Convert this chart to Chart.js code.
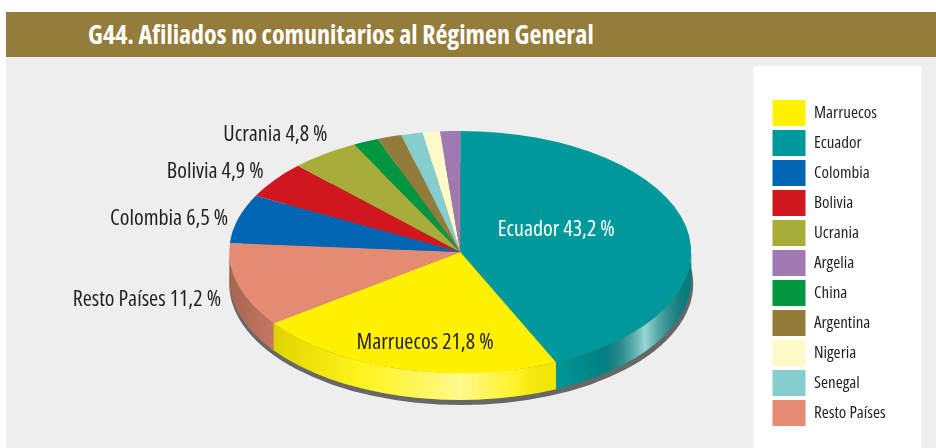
<!DOCTYPE html>
<html>
<head>
<meta charset="utf-8">
<script src="https://cdn.jsdelivr.net/npm/chart.js@4.4.1/dist/chart.umd.min.js"></script>
<style>
  body { margin: 0; width: 936px; height: 448px; background: #fff; position: relative; overflow: hidden; }
  #band {
    position: absolute; left: 6px; top: 12px; width: 930px; height: 45px;
    box-sizing: border-box; padding-left: 82px; background: #947c3a; color: #fff;
    font-family: "Open Sans", sans-serif; font-weight: 700; font-size: 26px; font-stretch: 75%;
    line-height: 44px;
  }
  #wrap { position: absolute; left: 6px; top: 57px; width: 930px; height: 391px; background: #eeeeee; }
</style>
</head>
<body>
<div id="band">G44. Afiliados no comunitarios al Régimen General</div>
<div id="wrap"><canvas id="afiliados" width="930" height="391"></canvas></div>
<script>
const FONT = '"Open Sans", sans-serif';

// slices, clockwise from 12 o'clock
const countries = ["Ecuador", "Marruecos", "Resto Países", "Colombia", "Bolivia", "Ucrania",
  "China", "Argentina", "Senegal", "Nigeria", "Argelia"];
const shares = [43.2, 21.8, 11.2, 6.5, 4.9, 4.8, 1.8, 1.7, 1.5, 1.2, 1.4];
const sliceColors = ["#00999b", "#fff100", "#e58b71", "#0066b3", "#d0161f", "#a8ad3a",
  "#00953f", "#917c3a", "#86cdcd", "#fffac7", "#a079b3"];
const legendOrder = ["Marruecos", "Ecuador", "Colombia", "Bolivia", "Ucrania", "Argelia",
  "China", "Argentina", "Nigeria", "Senegal", "Resto Países"];

// which slices get a "name xx,x %" label and how it sits
const labelStyle = {
  "Ecuador":      { s: 0.425, dx: 0,   dy: -11, align: "center", color: "#fff" },
  "Marruecos":    { s: 0.7,   dx: 6,   dy: 9,   align: "center", color: "#231f20" },
  "Resto Países": { s: 1,     dx: -17, dy: 15,  align: "right",  color: "#231f20" },
  "Colombia":     { s: 1,     dx: -10, dy: 0,   align: "right",  color: "#231f20" },
  "Bolivia":      { s: 1,     dx: -11, dy: -8,  align: "right",  color: "#231f20" },
  "Ucrania":      { s: 1,     dx: 3,   dy: -19, align: "right",  color: "#231f20" }
};

const TILT = 0.524;   // vertical squash of the disc
const DEPTH = 27;     // thickness of the side wall
const LEGEND_SIZE = 17;

function fmt(v) {
  return v.toFixed(1).replace(".", ",") + " %";
}

// width of the longest legend entry, so the legend column starts at a fixed x
const probe = document.createElement("canvas").getContext("2d");
probe.font = "condensed " + LEGEND_SIZE + "px " + FONT;
const legendTextW = Math.max(...countries.map((c) => probe.measureText(c).width));
const LEGEND_X = 773;

const pie3d = {
  id: "pie3d",
  beforeDraw(chart) {
    // white panel behind the legend
    const ctx = chart.ctx, lg = chart.legend;
    ctx.save();
    ctx.fillStyle = "#fff";
    ctx.fillRect(lg.left - 15, 9, 168, 382);
    ctx.restore();
  },
  beforeDatasetsDraw(chart) {
    const ctx = chart.ctx;
    const arcs = chart.getDatasetMeta(0).data;
    const { x, y, outerRadius: r } = arcs[0];
    const ry = r * TILT;

    ctx.save();
    // shadow under the disc
    ctx.fillStyle = "#676767";
    ctx.beginPath();
    ctx.ellipse(x + 1, y + DEPTH + 5, r + 1, ry, 0, 0, Math.PI * 2);
    ctx.fill();

    // side wall on the front half (angles 0..PI)
    const shine = ctx.createLinearGradient(x - r, 0, x + r, 0);
    shine.addColorStop(0, "rgba(0,0,0,0.28)");
    shine.addColorStop(0.12, "rgba(0,0,0,0.1)");
    shine.addColorStop(0.28, "rgba(255,255,255,0.1)");
    shine.addColorStop(0.5, "rgba(255,255,255,0.55)");
    shine.addColorStop(0.62, "rgba(255,255,255,0.15)");
    shine.addColorStop(0.72, "rgba(0,0,0,0.04)");
    shine.addColorStop(0.8, "rgba(0,0,0,0.15)");
    shine.addColorStop(0.9, "rgba(255,255,255,0.6)");
    shine.addColorStop(1, "rgba(0,0,0,0.2)");

    arcs.forEach((arc, i) => {
      const a0 = Math.max(arc.startAngle, 0);
      const a1 = Math.min(arc.endAngle, Math.PI);
      if (a1 <= a0) return;
      ctx.beginPath();
      ctx.ellipse(x, y, r, ry, 0, a0, a1);
      ctx.ellipse(x, y + DEPTH, r, ry, 0, a1, a0, true);
      ctx.closePath();
      ctx.fillStyle = sliceColors[i];
      ctx.fill();
      ctx.fillStyle = shine;
      ctx.fill();
    });
    ctx.restore();

    // squash the top face into an ellipse
    ctx.save();
    ctx.translate(0, y);
    ctx.scale(1, TILT);
    ctx.translate(0, -y);
  },
  afterDatasetsDraw(chart) {
    const ctx = chart.ctx;
    ctx.restore();

    const arcs = chart.getDatasetMeta(0).data;
    ctx.save();
    ctx.font = "condensed 22px " + FONT;
    ctx.textBaseline = "middle";
    arcs.forEach((arc, i) => {
      const st = labelStyle[countries[i]];
      if (!st) return;
      const mid = (arc.startAngle + arc.endAngle) / 2;
      const r = arc.outerRadius * st.s;
      const px = arc.x + r * Math.cos(mid) + st.dx;
      const py = arc.y + r * TILT * Math.sin(mid) + st.dy;
      ctx.fillStyle = st.color;
      ctx.textAlign = st.align;
      ctx.fillText(countries[i] + " " + fmt(shares[i]), px, py);
    });
    ctx.restore();
  }
};

new Chart("afiliados", {
  type: "pie",
  data: {
    labels: countries,
    datasets: [
      {
        data: shares,
        backgroundColor: sliceColors,
        borderWidth: 0,
        radius: 231,
        clip: false,
      },
    ],
  },
  options: {
    responsive: false,
    animation: false,
    events: [],
    layout: {
      padding: { left: 146, right: 930 - LEGEND_X - (4 + 33 + 8 + legendTextW), top: 9, bottom: 10 },
    },
    plugins: {
      tooltip: { enabled: false },
      legend: {
        position: "right",
        align: "start",
        title: { display: true, text: " ", font: { size: 12 }, padding: { top: 0, bottom: 15.6 } },
        labels: {
          boxWidth: 33,
          boxHeight: 26,
          padding: 4,
          color: "#231f20",
          font: { family: FONT, weight: "condensed", size: LEGEND_SIZE },
          sort: (a, b) => legendOrder.indexOf(a.text) - legendOrder.indexOf(b.text),
        },
      },
    },
  },
  plugins: [pie3d],
});
</script>
</body>
</html>
